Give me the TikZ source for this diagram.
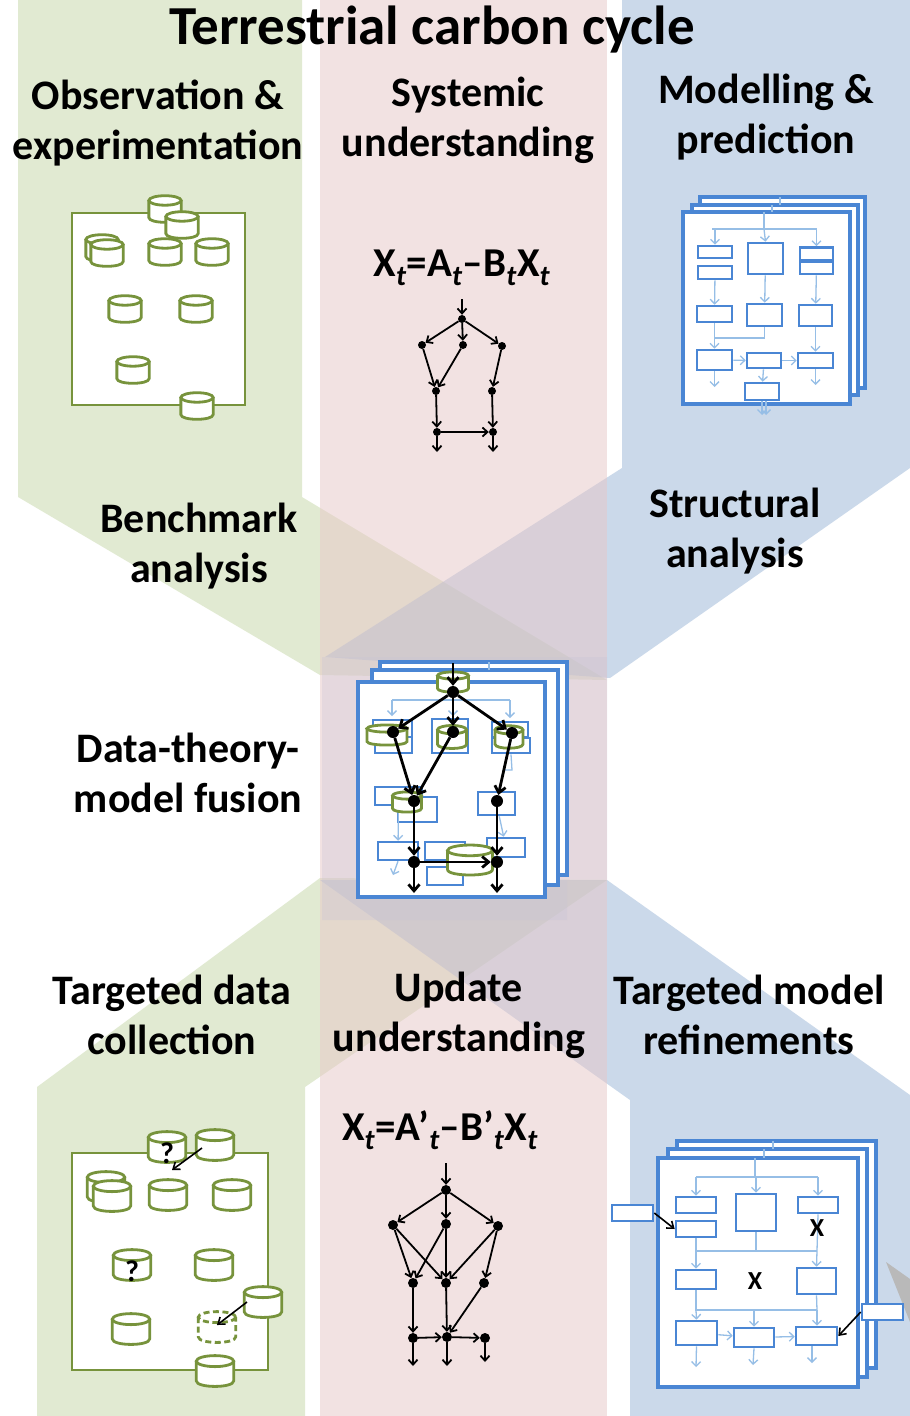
\documentclass[tikz,border=0pt]{standalone}
\usepackage{fontspec}
\setmainfont{Carlito}
\usetikzlibrary{arrows.meta}

\definecolor{bandgreen}{RGB}{197,215,167}
\definecolor{bandpink}{RGB}{231,199,199}
\definecolor{bandblue}{RGB}{153,181,215}
\definecolor{midtint}{RGB}{200,196,214}
\definecolor{olive}{RGB}{119,147,60}
\definecolor{mblue}{RGB}{74,134,212}
\definecolor{lblue}{RGB}{150,190,230}
\definecolor{wedgegray}{RGB}{185,185,185}

\tikzset{
  band/.style={fill opacity=0.5},
  head/.style={font=\fontsize{42}{50}\selectfont\bfseries, align=center, inner sep=0pt},
  drumstyle/.style={color=olive, line width=2.8pt},
  drum/.pic={
    \fill[white] (-17,-9) -- (-17,9) .. controls (-17,15.67) and (17,15.67) .. (17,9)
      -- (17,-9) .. controls (17,-15.67) and (-17,-15.67) .. (-17,-9) -- cycle;
    \draw (-17,-9) -- (-17,9) .. controls (-17,15.67) and (17,15.67) .. (17,9) -- (17,-9);
    \draw (0,-9) ellipse [x radius=17, y radius=5];
  },
  databox/.style={draw=olive, line width=2.8pt, fill=white},
  qmark/.style={font=\fontsize{30}{30}\selectfont\bfseries, inner sep=0pt},
  dot/.style={circle, fill=black, inner sep=0pt, minimum size=8pt},
  mdot/.style={circle, fill=black, inner sep=0pt, minimum size=10pt},
  bigdot/.style={circle, fill=black, inner sep=0pt, minimum size=12pt},
  gedge/.style={line width=1.8pt, -{Straight Barb[length=5pt,width=9pt,line width=1.8pt]}},
  gedgeB/.style={line width=2.8pt, -{Straight Barb[length=6.5pt,width=11pt,line width=2.8pt]}},
  thinarrow/.style={line width=1.6pt, -{Straight Barb[length=6pt,width=9pt,line width=1.6pt]}},
  page/.style={draw=mblue, line width=3.2pt, fill=white, inner sep=0pt},
  mbox/.style={draw=mblue, line width=2.6pt, fill=white, inner sep=0pt},
  lline/.style={draw=lblue, line width=1.3pt},
  larrow/.style={lline, -{Straight Barb[length=4.5pt,width=9pt,line width=1.3pt]}},
  xmark/.style={font=\fontsize{26}{26}\selectfont\bfseries, inner sep=0pt},
  eqn/.style={font=\fontsize{41}{44}\selectfont\bfseries, inner sep=0pt}
}

\begin{document}
\begin{tikzpicture}[x=1pt,y=-1pt]
\useasboundingbox (0,0) rectangle (910,1416);
\fill[white] (0,0) rectangle (910,1416);

% ---------- coloured bands ----------
\fill[band, bandgreen] (18,0) -- (302,0) -- (302,497) -- (607,680) -- (320,675) -- (18,497) -- cycle;
\fill[band, bandgreen] (320,878) -- (607,880) -- (305,1087) -- (305,1416) -- (37,1416) -- (37,1087) -- cycle;
\fill[band, bandblue] (622,0) -- (910,0) -- (910,468) -- (610,678) -- (325,657) -- (622,468) -- cycle;
\fill[band, bandblue] (320,880) -- (607,880) -- (910,1095) -- (910,1416) -- (630,1416) -- (630,1100) -- cycle;
\fill[band, bandpink] (320,0) rectangle (607,1416);
\fill[midtint, fill opacity=0.3] (322,657) -- (607,657) -- (607,880) -- (567,880) -- (567,920) -- (322,920) -- cycle;
\fill[wedgegray] (886,1262) -- (910,1279) -- (910,1322) -- cycle;

% ---------- headings ----------
\node[font=\fontsize{55}{60}\selectfont\bfseries, inner sep=0pt] (title) at (432,30) {Terrestrial carbon cycle};
\node[head] (hobs) at (158,123) {Observation \&\\experimentation};
\node[head] (hsys) at (468,120) {Systemic\\understanding};
\node[head] (hmod) at (766,117) {Modelling \&\\prediction};
\node[head] (hbench) at (199,546) {Benchmark\\analysis};
\node[head] (hstruct) at (735,531) {Structural\\analysis};
\node[head] (hfusion) at (188,773) {Data-theory-\\model fusion};
\node[head] (hdata) at (172,1015) {Targeted data\\collection};
\node[head] (hupd) at (459,1015) {Update\\understanding};
\node[head] (hrefine) at (749,1015) {Targeted model\\refinements};

% ---------- observation: data collection ----------
\node[databox, minimum width=173pt, minimum height=192pt, inner sep=0pt] (obsbox) at (158.5,309) {};
\foreach \x/\y in {165/209, 182/225, 102/248, 107/253, 165/252, 212/252, 125/309, 196/309, 133/370, 197/406}
  \pic[drumstyle, scale=0.95] at (\x,\y) {drum};

% ---------- systemic understanding: graph ----------
\node[eqn] (eq1) at (462,268) {X\textsubscript{\textit{t}}=A\textsubscript{\textit{t}}–B\textsubscript{\textit{t}}X\textsubscript{\textit{t}}};
\node[dot] (a0) at (462,319) {};
\node[dot] (a1) at (422,345) {};
\node[dot] (a2) at (463,345) {};
\node[dot] (a3) at (502,346) {};
\node[dot] (a4) at (436,391) {};
\node[dot] (a5) at (492,391) {};
\node[dot] (a6) at (437,432) {};
\node[dot] (a7) at (493,432) {};
\coordinate (a0in) at (462,299);
\coordinate (a6out) at (437,452);
\coordinate (a7out) at (493,452);
\draw[gedge] (a0in) -- (a0);
\draw[gedge] (a0) -- (a1);
\draw[gedge] (a0) -- (a2);
\draw[gedge] (a0) -- (a3);
\draw[gedge] (a1) -- (a4);
\draw[gedge] (a2) -- (a4);
\draw[gedge] (a3) -- (a5);
\draw[gedge] (a4) -- (a6);
\draw[gedge] (a5) -- (a7);
\draw[gedge] (a6) -- (a7);
\draw[gedge] (a6) -- (a6out);
\draw[gedge] (a7) -- (a7out);

% ---------- modelling: model stack ----------
\node[page, minimum width=165pt, minimum height=191pt] (mp3) at (782.5,292.5) {};
\node[page, minimum width=166pt, minimum height=190pt] (mp2) at (775,300) {};
\node[page, minimum width=167pt, minimum height=192pt] (mp1) at (766.5,308) {};
\draw[lline] (780,197) -- (780,205);
\draw[lline] (772,205) -- (772,212);
\coordinate (mtop) at (764,212);
\coordinate (mfeed) at (764,229);
\draw[lline] (mtop) -- (mfeed);
\draw[lline] (712,229) -- (817,229);
\node[mbox, minimum width=34pt, minimum height=12pt] (mA1) at (715,252) {};
\node[mbox, minimum width=34pt, minimum height=13pt] (mA2) at (715,272.5) {};
\node[mbox, minimum width=35pt, minimum height=31pt] (mB) at (765.5,258.5) {};
\node[mbox, minimum width=33pt, minimum height=13pt] (mC1) at (816.5,254) {};
\node[mbox, minimum width=33pt, minimum height=12pt] (mC2) at (816.5,268) {};
\node[mbox, minimum width=35pt, minimum height=16pt] (mD1) at (714.5,314) {};
\node[mbox, minimum width=35pt, minimum height=22pt] (mD2) at (764.5,315) {};
\node[mbox, minimum width=33pt, minimum height=21pt] (mD3) at (815.5,315.5) {};
\node[mbox, minimum width=35pt, minimum height=20pt] (mE1) at (714.5,360) {};
\node[mbox, minimum width=34pt, minimum height=15pt] (mE2) at (764,360.5) {};
\node[mbox, minimum width=35pt, minimum height=15pt] (mE3) at (815.5,360.5) {};
\node[mbox, minimum width=34pt, minimum height=17pt] (mF) at (762,391.5) {};
\draw[larrow] (mA1.north |- mfeed) -- (mA1.north);
\draw[larrow] (mfeed) -- (mB.north);
\draw[larrow] (mC1.north |- mfeed) -- (mC1.north);
\draw[larrow] (mA2) -- (mD1);
\draw[larrow] (mB) -- (mD2);
\draw[larrow] (mC2) -- (mD3);
\draw[larrow] (mD1) -- (mE1);
\draw[lline] (mD2.south) -- (764.5,338) -- (714.5,338);
\draw[larrow] (mD3) -- (mE3);
\draw[larrow] (mE1) -- (mE2);
\draw[larrow] (mE2) -- (mE3);
\draw[larrow] (mE2) -- (mF);
\coordinate (mE1out) at (714.5,387);
\coordinate (mE3out) at (815.5,385);
\coordinate (mFout) at (762,415);
\draw[larrow] (mE1) -- (mE1out);
\draw[larrow] (mE3) -- (mE3out);
\draw[larrow] (mF) -- (mFout);
\draw[larrow] ([xshift=4pt]mF.south) -- ([xshift=4pt]mFout);

% ---------- data-theory-model fusion ----------
\node[page, minimum width=187pt, minimum height=213pt] (fp3) at (473.5,768.5) {};
\node[page, minimum width=186pt, minimum height=215pt] (fp2) at (465,777.5) {};
\node[page, minimum width=187pt, minimum height=215pt] (fp1) at (451.5,789.5) {};
\draw[lline] (489,662) -- (489,670);
\coordinate (ffeed) at (453,700);
\draw[lline] (392,700) -- (510,700);
\draw[larrow] (392,700) -- (392,716);
\draw[larrow] (510,700) -- (510,718);
\draw[larrow] (ffeed) -- (453,716);
\node[mbox, minimum width=39pt, minimum height=17pt] (fL1) at (392.5,728.5) {};
\node[mbox, minimum width=37pt, minimum height=16pt] (fL2) at (393.5,745) {};
\node[mbox, minimum width=36pt, minimum height=34pt] (fM) at (450,736) {};
\node[mbox, minimum width=36pt, minimum height=15pt] (fR1) at (510,729.5) {};
\node[mbox, minimum width=38pt, minimum height=15pt] (fR2) at (511,745.5) {};
\node[mbox, minimum width=47pt, minimum height=18pt] (fP1) at (398.5,796) {};
\node[mbox, minimum width=39pt, minimum height=25pt] (fP2) at (417.5,809.5) {};
\node[mbox, minimum width=37pt, minimum height=23pt] (fQ) at (496.5,803.5) {};
\node[mbox, minimum width=40pt, minimum height=18pt] (fS1) at (398,851) {};
\node[mbox, minimum width=40pt, minimum height=18pt] (fS2) at (445,851) {};
\node[mbox, minimum width=36pt, minimum height=18pt] (fS3) at (445,876) {};
\node[mbox, minimum width=38pt, minimum height=19pt] (fT) at (506,847.5) {};
\draw[larrow] (fP1) -- (fS1);
\draw[larrow] (fS1.south) -- (393,875);
\draw[larrow] (fQ) -- (fT);
\draw[lline] (fR2.south) -- (512,770) -- (505,770);
\pic[drumstyle, xscale=0.91, yscale=0.72] at (453,682) {drum};
\pic[drumstyle, xscale=1.18, yscale=0.72] at (387,735) {drum};
\pic[drumstyle, xscale=0.85, yscale=0.82] at (452,737) {drum};
\pic[drumstyle, xscale=0.82, yscale=0.8] at (509,737) {drum};
\pic[drumstyle, xscale=0.85, yscale=0.72] at (407,802) {drum};
\pic[drumstyle, xscale=1.32, yscale=1.07] at (470,860) {drum};
\node[bigdot] (c0) at (453,692) {};
\node[bigdot] (c1) at (393,732) {};
\node[bigdot] (c2) at (453,732) {};
\node[bigdot] (c3) at (512,733) {};
\node[bigdot] (c4) at (414,801) {};
\node[bigdot] (c5) at (497,801) {};
\node[bigdot] (c6) at (414,862) {};
\node[bigdot] (c7) at (497,862) {};
\coordinate (c0in) at (453,663);
\coordinate (c6out) at (414,893);
\coordinate (c7out) at (497,893);
\draw[gedgeB] (c0in) -- (c0);
\draw[gedgeB] (c0) -- (c1);
\draw[gedgeB] (c0) -- (c2);
\draw[gedgeB] (c0) -- (c3);
\draw[gedgeB] (c1) -- (c4);
\draw[gedgeB] (c2) -- (c4);
\draw[gedgeB] (c3) -- (c5);
\draw[gedgeB] (c4) -- (c6);
\draw[gedgeB] (c5) -- (c7);
\draw[gedgeB] (c6) -- (c7);
\draw[gedgeB] (c6) -- (c6out);
\draw[gedgeB] (c7) -- (c7out);

% ---------- targeted data collection ----------
\node[databox, minimum width=196pt, minimum height=217pt, inner sep=0pt] (colbox) at (170,1261.5) {};
\pic[drumstyle, scale=1.1] at (167,1147) {drum};
\node[qmark] (q1) at (167,1153) {?};
\pic[drumstyle, scale=1.1] at (215,1145) {drum};
\coordinate (newA) at (202,1148);
\coordinate (newAend) at (172,1170);
\draw[thinarrow] (newA) -- (newAend);
\foreach \x/\y in {106/1187, 112/1196, 168/1195, 232/1195}
  \pic[drumstyle, scale=1.1] at (\x,\y) {drum};
\pic[drumstyle, scale=1.1] at (132,1265) {drum};
\node[qmark] (q2) at (132,1271) {?};
\pic[drumstyle, scale=1.1] at (214,1265) {drum};
\pic[drumstyle, scale=1.1, dash pattern=on 6pt off 3.5pt] at (217,1327) {drum};
\pic[drumstyle, scale=1.1] at (263,1302) {drum};
\coordinate (newB) at (247,1302);
\coordinate (newBend) at (217,1325);
\draw[thinarrow] (newB) -- (newBend);
\pic[drumstyle, scale=1.1] at (131,1329) {drum};
\pic[drumstyle, scale=1.1] at (215,1371) {drum};

% ---------- update understanding ----------
\node[eqn] (eq2) at (440,1130) {X\textsubscript{\textit{t}}=A’\textsubscript{\textit{t}}–B’\textsubscript{\textit{t}}X\textsubscript{\textit{t}}};
\node[mdot] (b0) at (446,1190) {};
\node[mdot] (b1) at (393,1225) {};
\node[mdot] (b2) at (446,1224) {};
\node[mdot] (b3) at (498,1226) {};
\node[mdot] (b4) at (413,1283) {};
\node[mdot] (b5) at (446,1283) {};
\node[mdot] (b6) at (484,1283) {};
\node[mdot] (b7) at (413,1338) {};
\node[mdot] (b8) at (447,1337) {};
\node[mdot] (b9) at (485,1338) {};
\coordinate (b0in) at (446,1163);
\coordinate (b7out) at (413,1366);
\coordinate (b8out) at (447,1366);
\coordinate (b9out) at (485,1362);
\draw[gedge] (b0in) -- (b0);
\draw[gedge] (b0) -- (b1);
\draw[gedge] (b0) -- (b2);
\draw[gedge] (b0) -- (b3);
\draw[gedge] (b1) -- (b4);
\draw[gedge] (b1) -- (b5);
\draw[gedge] (b2) -- (b4);
\draw[gedge] (b2) -- (b5);
\draw[gedge] (b3) -- (b5);
\draw[gedge] (b3) -- (b6);
\draw[gedge] (b4) -- (b7);
\draw[gedge] (b5) -- (b8);
\draw[gedge] (b6) -- (b8);
\draw[gedge] (b7) -- (b8);
\draw[gedge] (b8) -- (b9);
\draw[gedge] (b7) -- (b7out);
\draw[gedge] (b8) -- (b8out);
\draw[gedge] (b9) -- (b9out);

% ---------- targeted model refinements ----------
\node[page, minimum width=199pt, minimum height=227pt] (rp3) at (776.5,1254.5) {};
\node[page, minimum width=199pt, minimum height=228pt] (rp2) at (767.5,1263) {};
\node[page, minimum width=200pt, minimum height=229pt] (rp1) at (758,1272.5) {};
\draw[lline] (773,1141) -- (773,1149);
\draw[lline] (764,1149) -- (764,1158);
\coordinate (rtop) at (755,1158);
\coordinate (rfeed) at (755,1177);
\draw[lline] (rtop) -- (rfeed);
\draw[lline] (696,1177) -- (818,1177);
\node[mbox, minimum width=40pt, minimum height=16pt] (rL1) at (696,1205) {};
\node[mbox, minimum width=40pt, minimum height=16pt] (rL2) at (696,1229) {};
\node[mbox, minimum width=40pt, minimum height=37pt] (rB) at (756,1212.5) {};
\node[mbox, minimum width=40pt, minimum height=16pt] (rR1) at (818,1205) {};
\node[mbox, minimum width=40pt, minimum height=19pt] (rM1) at (696,1279.5) {};
\node[mbox, minimum width=39pt, minimum height=26pt] (rM3) at (816.5,1281) {};
\node[mbox, minimum width=41pt, minimum height=24pt] (rN1) at (696.5,1333) {};
\node[mbox, minimum width=40pt, minimum height=19pt] (rN2) at (754,1337.5) {};
\node[mbox, minimum width=41pt, minimum height=18pt] (rN3) at (816.5,1336) {};
\draw[larrow] (rL1.north |- rfeed) -- (rL1.north);
\draw[larrow] (rB.north |- rfeed) -- (rB.north);
\draw[larrow] (rR1.north |- rfeed) -- (rR1.north);
\coordinate (rj1) at (696,1251);
\coordinate (rj2) at (817,1251);
\draw[lline] (rL2.south) -- (rj1) -- (rj2);
\draw[lline] (rB.south) -- (rB.south |- rj1);
\draw[lline] (rR1.south) -- (rj2);
\draw[larrow] (rj1) -- (rM1.north);
\draw[larrow] (rj2) -- (rM3.north);
\coordinate (rk1) at (696,1310);
\coordinate (rk2) at (817,1310);
\draw[lline] (rM1.south) -- (rk1) -- (rk2);
\draw[lline] (rM3.south) -- (rk2);
\draw[larrow] (rk1) -- (rN1.north);
\draw[larrow] (rN2.north |- rk1) -- (rN2.north);
\draw[larrow] (rk2) -- (rN3.north -| rk2);
\draw[larrow] (rN1) -- (rN2);
\draw[larrow] (rN2) -- (rN3);
\coordinate (rN1out) at (696,1367);
\coordinate (rN2out) at (753,1365);
\coordinate (rN3out) at (812,1363);
\draw[larrow] (rN1.south) -- (rN1out);
\draw[larrow] (rN2.south) -- (rN2out);
\draw[larrow] (rN3.south -| rN3out) -- (rN3out);
\node[xmark] (x1) at (817,1228) {X};
\node[xmark] (x2) at (755,1281) {X};
\node[mbox, minimum width=41pt, minimum height=16pt] (rXL) at (632.5,1213) {};
\node[mbox, minimum width=41pt, minimum height=16pt] (rXR) at (882.5,1312) {};
\draw[thinarrow] (rXL.east) -- (rL2.west);
\draw[thinarrow] (rXR.west) -- (rN3.east);
\end{tikzpicture}
\end{document}
